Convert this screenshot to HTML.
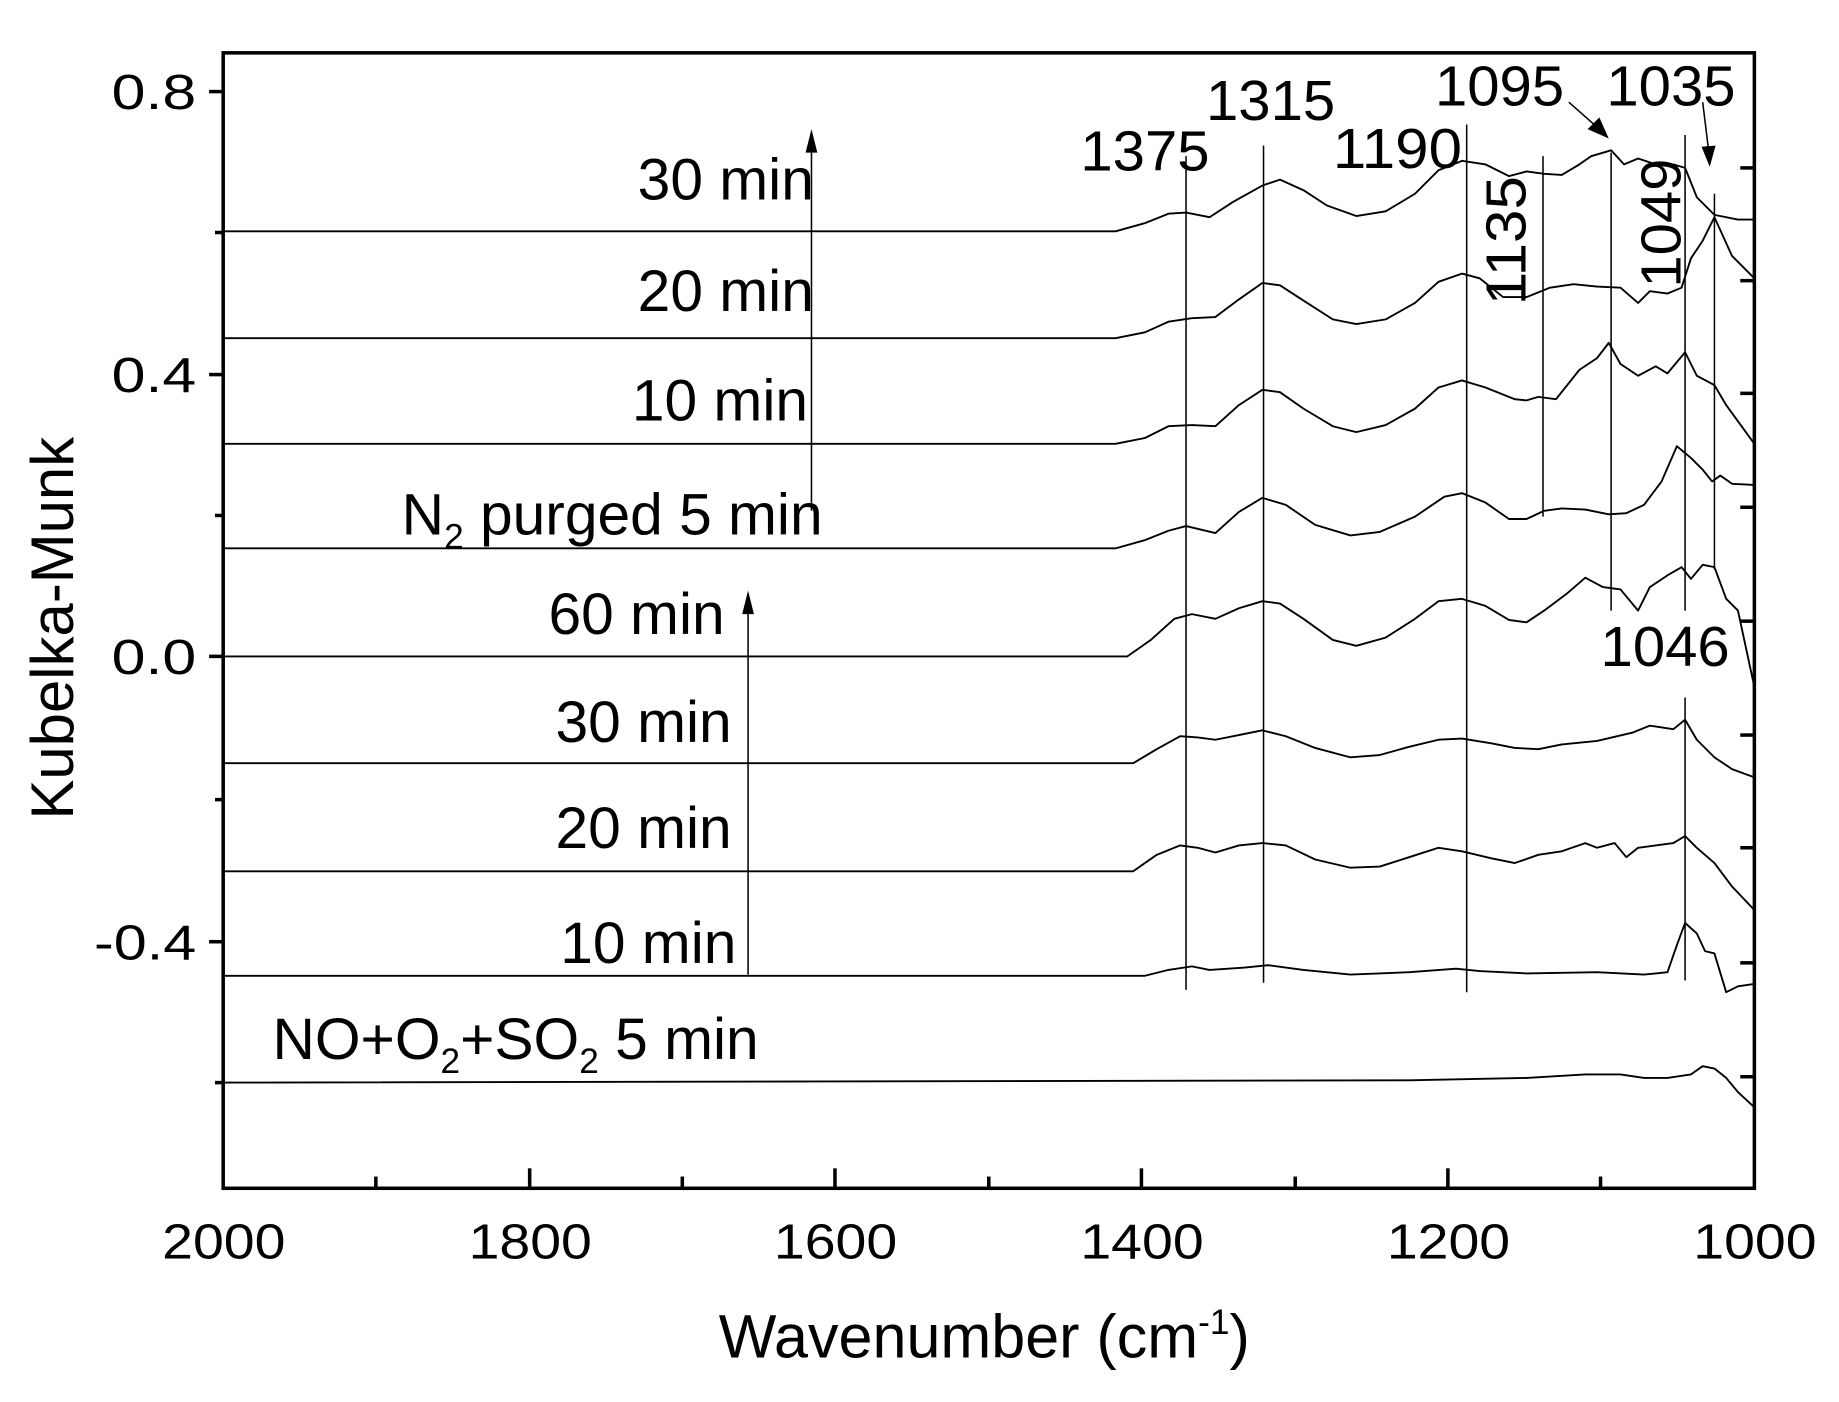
<!DOCTYPE html>
<html><head><meta charset="utf-8"><style>
html,body{margin:0;padding:0;background:#fff;}
svg{display:block;}
text{font-family:"Liberation Sans",Arial,sans-serif;fill:#000;}
</style></head><body>
<svg width="1839" height="1402" viewBox="0 0 1566 1194" xmlns="http://www.w3.org/2000/svg">
<rect x="0" y="0" width="1566" height="1194" fill="#fff"/>
<g fill="none" stroke="#000" stroke-width="1.6" stroke-linejoin="round">
<polyline points="190,197 950,197 975,190 995,182 1010,181 1030,185 1050,172 1075,158 1090,153 1110,162 1130,175 1155,184 1180,180 1205,165 1225,145 1245,137 1265,140 1285,150 1300,146 1315,148 1330,149 1345,140 1355,133 1372,128 1383,140 1395,135 1410,140 1425,140 1435,143 1445,168 1460,183 1480,187 1494,187"/>
<polyline points="190,288 950,288 975,283 995,274 1015,271 1035,270 1055,255 1075,241 1090,243 1110,256 1135,272 1155,276 1180,272 1205,258 1225,240 1245,233 1260,237 1280,253 1300,253 1320,245 1340,242 1360,244 1380,245 1395,258 1405,248 1420,250 1432,245 1440,220 1450,205 1460,185 1475,218 1494,237"/>
<polyline points="190,378 950,378 975,373 995,363 1015,362 1035,363 1055,345 1075,332 1090,334 1110,348 1135,363 1155,368 1180,362 1205,348 1225,330 1245,324 1265,330 1290,340 1300,341 1310,338 1325,340 1345,315 1360,305 1370,292 1380,310 1395,320 1410,312 1420,318 1435,300 1445,320 1460,328 1470,345 1494,378"/>
<polyline points="190,467 950,467 975,460 995,452 1010,448 1035,454 1055,436 1075,424 1095,430 1120,447 1150,456 1175,453 1205,440 1230,423 1245,420 1265,428 1285,442 1300,442 1315,435 1330,433 1350,434 1370,438 1385,437 1400,430 1415,410 1428,380 1440,390 1450,400 1458,410 1465,405 1475,412 1494,413"/>
<polyline points="190,559 960,559 980,545 1000,527 1015,523 1035,527 1055,518 1075,512 1090,514 1110,527 1135,545 1155,550 1180,543 1205,527 1225,512 1245,510 1265,516 1285,528 1300,530 1315,520 1335,505 1350,492 1365,500 1380,502 1395,520 1405,500 1420,490 1432,483 1440,493 1450,481 1460,483 1470,510 1480,520 1494,585"/>
<polyline points="190,650 965,650 985,638 1005,627 1020,628 1035,630 1055,626 1075,622 1095,627 1120,637 1150,645 1175,643 1200,636 1225,630 1245,629 1270,633 1290,637 1310,638 1330,634 1360,631 1390,624 1405,618 1425,621 1435,613 1445,630 1460,645 1475,655 1494,662"/>
<polyline points="190,742 965,742 985,728 1005,720 1020,722 1035,726 1055,720 1075,718 1095,720 1120,732 1150,739 1175,738 1200,730 1225,722 1245,725 1270,731 1290,735 1310,728 1330,725 1350,718 1360,722 1375,718 1385,730 1395,722 1410,720 1425,718 1435,712 1445,722 1460,735 1475,755 1494,775"/>
<polyline points="190,831 975,831 995,826 1015,823 1030,826 1060,824 1080,822 1110,826 1150,830 1200,828 1240,825 1260,827 1300,829 1360,828 1400,830 1420,828 1428,805 1435,786 1445,795 1452,810 1460,812 1470,845 1480,840 1494,838"/>
<polyline points="190,922 1200,920 1300,918 1350,915 1380,915 1400,918 1420,918 1440,915 1450,908 1460,910 1470,918 1480,930 1494,943"/>
</g>
<g stroke="#000" stroke-width="1.3">
<line x1="1010" y1="133" x2="1010" y2="843"/>
<line x1="1076" y1="124" x2="1076" y2="837"/>
<line x1="1249" y1="106" x2="1249" y2="845"/>
<line x1="1314" y1="133" x2="1314" y2="440"/>
<line x1="1372" y1="130" x2="1372" y2="520"/>
<line x1="1435" y1="115" x2="1435" y2="520"/>
<line x1="1435" y1="594" x2="1435" y2="835"/>
<line x1="1460" y1="165" x2="1460" y2="485"/>
<line x1="691" y1="435" x2="691" y2="125"/>
<line x1="637" y1="830" x2="637" y2="520"/>
<line x1="1336" y1="87" x2="1362" y2="110"/>
<line x1="1450" y1="87" x2="1455" y2="128"/>
</g>
<g fill="#000">
<polygon points="691,110 686,130 696,130"/>
<polygon points="637,503 632,523 642,523"/>
<polygon points="1370,118 1352,110 1362,100"/>
<polygon points="1456,142 1449,125 1461,124"/>
</g>
<g font-size="48">
<text x="920" y="145" textLength="110" lengthAdjust="spacingAndGlyphs">1375</text>
<text x="1027" y="102" textLength="110" lengthAdjust="spacingAndGlyphs">1315</text>
<text x="1135" y="143" textLength="110" lengthAdjust="spacingAndGlyphs">1190</text>
<text x="1222" y="90" textLength="110" lengthAdjust="spacingAndGlyphs">1095</text>
<text x="1368" y="90" textLength="110" lengthAdjust="spacingAndGlyphs">1035</text>
<text x="1363" y="567" textLength="110" lengthAdjust="spacingAndGlyphs">1046</text>
<text transform="translate(1299,260) rotate(-90)" textLength="110" lengthAdjust="spacingAndGlyphs">1135</text>
<text transform="translate(1431,245) rotate(-90)" textLength="110" lengthAdjust="spacingAndGlyphs">1049</text>
</g>
<g font-size="50">
<text x="543" y="170">30 min</text>
<text x="543" y="265">20 min</text>
<text x="538" y="358">10 min</text>
<text x="342" y="455">N<tspan font-size="30" dy="12">2</tspan><tspan dy="-12"> purged 5 min</tspan></text>
<text x="467" y="540">60 min</text>
<text x="473" y="632">30 min</text>
<text x="473" y="722">20 min</text>
<text x="477" y="820">10 min</text>
<text x="232" y="902">NO+O<tspan font-size="30" dy="12">2</tspan><tspan dy="-12">+SO</tspan><tspan font-size="30" dy="12">2</tspan><tspan dy="-12"> 5 min</tspan></text>
</g>
<rect x="190" y="45" width="1304" height="967" fill="none" stroke="#000" stroke-width="3"/>
<g stroke="#000" stroke-width="3">
<line x1="178" y1="78" x2="190" y2="78"/><line x1="178" y1="319" x2="190" y2="319"/>
<line x1="178" y1="559" x2="190" y2="559"/><line x1="178" y1="802" x2="190" y2="802"/>
<line x1="183" y1="198" x2="190" y2="198"/><line x1="183" y1="439" x2="190" y2="439"/>
<line x1="183" y1="681" x2="190" y2="681"/><line x1="183" y1="922" x2="190" y2="922"/>
<line x1="451" y1="1012" x2="451" y2="995"/><line x1="711" y1="1012" x2="711" y2="995"/>
<line x1="972" y1="1012" x2="972" y2="995"/><line x1="1233" y1="1012" x2="1233" y2="995"/>
<line x1="320" y1="1012" x2="320" y2="1002"/><line x1="581" y1="1012" x2="581" y2="1002"/>
<line x1="842" y1="1012" x2="842" y2="1002"/><line x1="1103" y1="1012" x2="1103" y2="1002"/>
<line x1="1363" y1="1012" x2="1363" y2="1002"/>
<line x1="1482" y1="143" x2="1494" y2="143"/><line x1="1482" y1="239" x2="1494" y2="239"/>
<line x1="1482" y1="335" x2="1494" y2="335"/><line x1="1482" y1="432" x2="1494" y2="432"/>
<line x1="1482" y1="529" x2="1494" y2="529"/><line x1="1482" y1="626" x2="1494" y2="626"/>
<line x1="1482" y1="722" x2="1494" y2="722"/><line x1="1482" y1="820" x2="1494" y2="820"/>
<line x1="1482" y1="917" x2="1494" y2="917"/>
</g>
<g font-size="42">
<text x="95" y="93" textLength="72" lengthAdjust="spacingAndGlyphs">0.8</text><text x="95" y="334" textLength="72" lengthAdjust="spacingAndGlyphs">0.4</text>
<text x="95" y="574" textLength="72" lengthAdjust="spacingAndGlyphs">0.0</text><text x="80" y="817" textLength="87" lengthAdjust="spacingAndGlyphs">-0.4</text>
</g>
<g font-size="42">
<text x="138" y="1072" textLength="105" lengthAdjust="spacingAndGlyphs">2000</text><text x="399" y="1072" textLength="105" lengthAdjust="spacingAndGlyphs">1800</text>
<text x="659" y="1072" textLength="105" lengthAdjust="spacingAndGlyphs">1600</text><text x="920" y="1072" textLength="105" lengthAdjust="spacingAndGlyphs">1400</text>
<text x="1181" y="1072" textLength="105" lengthAdjust="spacingAndGlyphs">1200</text><text x="1442" y="1072" textLength="105" lengthAdjust="spacingAndGlyphs">1000</text>
</g>
<text x="612" y="1156" font-size="52">Wavenumber (cm<tspan font-size="30" dy="-20">-1</tspan><tspan dy="20">)</tspan></text>
<text transform="translate(62,535) rotate(-90)" font-size="51" text-anchor="middle">Kubelka-Munk</text>
</svg>
</body></html>
